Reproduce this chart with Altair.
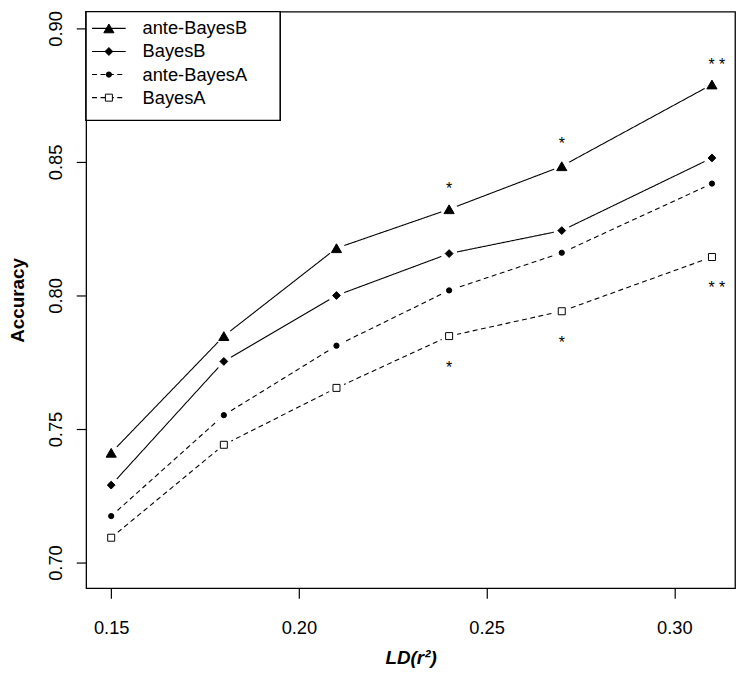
import altair as alt
import pandas as pd

# ---- data ----
ld = [0.15, 0.18, 0.21, 0.24, 0.27, 0.31]
series_names = ["ante-BayesB", "BayesB", "ante-BayesA", "BayesA"]
ante_bayes_b = [0.7411, 0.7848, 0.8177, 0.8323, 0.8484, 0.8790]
bayes_b = [0.7290, 0.7753, 0.8000, 0.8157, 0.8243, 0.8515]
ante_bayes_a = [0.7174, 0.7552, 0.7812, 0.8019, 0.8160, 0.8419]
bayes_a = [0.7093, 0.7441, 0.7654, 0.7848, 0.7941, 0.8144]

star_x = [0.24, 0.24, 0.27, 0.27, 0.31, 0.31]
star_y = [0.8414, 0.7743, 0.8580, 0.7836, 0.8879, 0.8041]
star_label = ["*", "*", "*", "*", "* *", "* *"]

x_ticks = [0.15, 0.20, 0.25, 0.30]
y_ticks = [0.70, 0.75, 0.80, 0.85, 0.90]

rows = []
for name, vals in zip(series_names, [ante_bayes_b, bayes_b, ante_bayes_a, bayes_a]):
    for xv, yv in zip(ld, vals):
        rows.append({"ld": xv, "acc": yv, "series": name})
df = pd.DataFrame(rows)
stars = pd.DataFrame({"ld": star_x, "acc": star_y, "label": star_label})
leg = pd.DataFrame({"series": series_names})

FONT = "Liberation Sans"
X_DOM = [0.14333, 0.31615]
Y_DOM = [0.69037, 0.90630]

xs = alt.Scale(domain=X_DOM, nice=False, zero=False)
ys = alt.Scale(domain=Y_DOM, nice=False, zero=False)

dash_scale = alt.Scale(domain=series_names, range=[[1, 0], [1, 0], [5, 3.5], [5, 3.5]])
shape_scale = alt.Scale(domain=series_names, range=["triangle-up", "diamond", "circle", "square"])
fill_scale = alt.Scale(domain=series_names, range=["black", "black", "black", "white"])
size_scale = alt.Scale(type="ordinal", domain=series_names, range=[105, 62, 28, 50])

x_enc = alt.X("ld:Q", scale=xs, axis=alt.Axis(
    values=x_ticks, format=".2f", title="LD(r²)", titleFontStyle="italic",
    titleFontWeight="bold", titleFontSize=19, titleFont=FONT, titleColor="black",
    titleBaseline="alphabetic", titleY=76,
    labelBaseline="alphabetic", labelPadding=36, labelAlign="center"))
y_axis = alt.Axis(
    values=y_ticks, format=".2f", title="Accuracy", titleFontWeight="bold",
    titleFontSize=19, titleFont=FONT, titleColor="black", titleAngle=270,
    titleBaseline="alphabetic", titleX=-63, titleAlign="center",
    labelAngle=270, labelAlign="center", labelBaseline="alphabetic", labelPadding=15)

lines = alt.Chart(df).mark_line(color="black", strokeWidth=1.1).encode(
    x=x_enc,
    y=alt.Y("acc:Q", scale=ys, axis=y_axis),
    detail="series:N",
    strokeDash=alt.StrokeDash("series:N", scale=dash_scale, legend=None),
)

# white discs that open the small gaps around each marker (R type="b")
halos = alt.Chart(df).mark_point(shape="circle", filled=True, fill="white",
                                  stroke="white", strokeWidth=2,
                                  opacity=1, fillOpacity=1, size=220).encode(
    x=alt.X("ld:Q", scale=xs),
    y=alt.Y("acc:Q", scale=ys, axis=None),
)

points = alt.Chart(df).mark_point(filled=True, opacity=1, stroke="black",
                                   strokeWidth=1).encode(
    x=alt.X("ld:Q", scale=xs),
    y=alt.Y("acc:Q", scale=ys, axis=None),
    shape=alt.Shape("series:N", scale=shape_scale, legend=None),
    fill=alt.Fill("series:N", scale=fill_scale, legend=None),
    size=alt.Size("series:N", scale=size_scale, legend=None),
)

star_single = alt.Chart(stars).transform_filter(alt.datum.label == "*").mark_text(
    font=FONT, fontSize=16, color="black", baseline="alphabetic", dy=9).encode(
    x=alt.X("ld:Q", scale=xs),
    y=alt.Y("acc:Q", scale=ys, axis=None),
    text="label:N",
)
star_double = alt.Chart(stars).transform_filter(alt.datum.label != "*").mark_text(
    font=FONT, fontSize=16, color="black", baseline="alphabetic", dy=9, dx=5).encode(
    x=alt.X("ld:Q", scale=xs),
    y=alt.Y("acc:Q", scale=ys, axis=None),
    text="label:N",
)

# ---- legend ----
leg_y = alt.Y("series:N", sort=series_names, axis=None,
              scale=alt.Scale(type="point", domain=series_names, range=[17, 87], padding=0))

leg_box = alt.Chart(leg).mark_rect(fill="white", stroke="black", strokeWidth=1.2).encode(
    x=alt.value(0), x2=alt.value(196), y=alt.value(0), y2=alt.value(110))

leg_lines = alt.Chart(leg).mark_rule(color="black", strokeWidth=1.1).encode(
    x=alt.value(6), x2=alt.value(40), y=leg_y,
    strokeDash=alt.StrokeDash("series:N", scale=dash_scale, legend=None))

leg_points = alt.Chart(leg).mark_point(filled=True, opacity=1, stroke="black",
                                       strokeWidth=1).encode(
    x=alt.value(23), y=leg_y,
    shape=alt.Shape("series:N", scale=shape_scale, legend=None),
    fill=alt.Fill("series:N", scale=fill_scale, legend=None),
    size=alt.Size("series:N", scale=size_scale, legend=None),
)

leg_text = alt.Chart(leg).mark_text(font=FONT, fontSize=18.5, color="black",
                                    align="left", baseline="middle").encode(
    x=alt.value(57), y=leg_y, text="series:N")

chart = alt.layer(
    lines, halos, points, star_single, star_double,
    leg_box, leg_lines, leg_points, leg_text
).resolve_scale(y="independent").properties(
    width=656, height=583,
    autosize=alt.AutoSizeParams(type="none"),
    padding={"left": 79, "top": 0, "right": 4, "bottom": 80},
).configure_view(
    stroke="black", strokeWidth=1.3
).configure_axis(
    domain=False, grid=False, ticks=True, tickSize=10, tickColor="black",
    tickWidth=1.2, labelFont=FONT, labelFontSize=18.5, labelColor="black",
)

chart.save("out.html", embed_options={"renderer": "svg", "actions": False})
